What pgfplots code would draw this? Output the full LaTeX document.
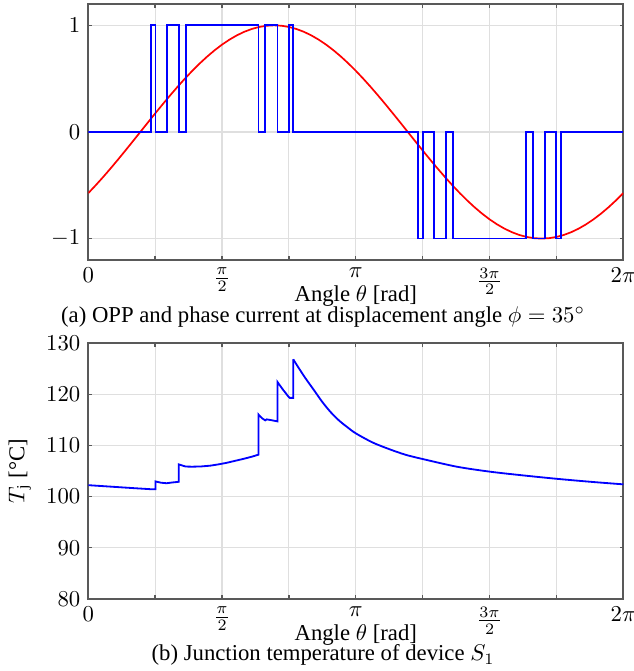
\documentclass[border=0pt]{standalone}
\usepackage{amsmath}
\usepackage{fontspec}
\setmainfont{Liberation Serif}
\usepackage{pgfplots}
\pgfplotsset{compat=1.18}

\pgfplotstableread{
x y
0 -0.5736
5 -0.5
10 -0.4226
15 -0.3420
20 -0.2588
25 -0.1736
30 -0.0872
35 0
40 0.0872
45 0.1736
50 0.2588
55 0.3420
60 0.4226
65 0.5
70 0.5736
75 0.6428
80 0.7071
85 0.7660
90 0.8192
95 0.8660
100 0.9063
105 0.9397
110 0.9659
115 0.9848
120 0.9962
125 1
130 0.9962
135 0.9848
140 0.9659
145 0.9397
150 0.9063
155 0.8660
160 0.8192
165 0.7660
170 0.7071
175 0.6428
180 0.5736
185 0.5
190 0.4226
195 0.3420
200 0.2588
205 0.1736
210 0.0872
215 0
220 -0.0872
225 -0.1736
230 -0.2588
235 -0.3420
240 -0.4226
245 -0.5
250 -0.5736
255 -0.6428
260 -0.7071
265 -0.7660
270 -0.8192
275 -0.8660
280 -0.9063
285 -0.9397
290 -0.9659
295 -0.9848
300 -0.9962
305 -1
310 -0.9962
315 -0.9848
320 -0.9659
325 -0.9397
330 -0.9063
335 -0.8660
340 -0.8192
345 -0.7660
350 -0.7071
355 -0.6428
360 -0.5736
}\current

\pgfplotstableread{
x y
0 0
42.1 0
42.1 1
45.2 1
45.2 0
52.7 0
52.7 1
60.9 1
60.9 0
65.5 0
65.5 1
114.5 1
114.5 0
119.1 0
119.1 1
127.3 1
127.3 0
134.8 0
134.8 1
137.9 1
137.9 0
222.1 0
222.1 -1
225.2 -1
225.2 0
232.7 0
232.7 -1
240.9 -1
240.9 0
245.5 0
245.5 -1
294.5 -1
294.5 0
299.1 0
299.1 -1
307.3 -1
307.3 0
314.8 0
314.8 -1
317.9 -1
317.9 0
360 0
}\opp

\pgfplotstableread{
x y
0 102.24
10 102.05
20 101.86
30 101.67
42.1 101.45
45.2 101.45
45.2 102.98
47 102.85
49 102.72
52.7 102.62
56 102.75
60.9 102.9
60.9 106.3
62.5 106.15
65.5 105.88
70 105.85
76 105.9
82 106.05
87.5 106.3
93 106.6
98.8 107.0
104 107.35
110 107.8
114.5 108.2
114.5 116.05
117 115.3
119.1 114.9
120 115.1
123 114.95
127.3 114.7
127.3 122.4
131 120.9
134.8 119.5
135.5 119.3
137.9 119.3
137.9 126.84
}\tempA

\pgfplotstableread{
x y
137.9 126.84
141.75 125.07
146.25 123.09
151.9 120.79
157.5 118.49
163.1 116.51
168.75 114.87
174.4 113.55
180 112.37
191.25 110.59
202.5 109.28
213.75 108.16
225 107.35
248 105.85
270.5 104.87
292.9 104.14
315.4 103.48
338 102.9
360 102.4
}\tempB

\pgfplotsset{
  myaxis/.style={
    scale only axis,
    width=235.4pt,
    height=112.6pt,
    xmin=0, xmax=360,
    xtick={0,45,...,360},
    xticklabels={$0$,,$\frac{\pi}{2}$,,$\pi$,,$\frac{3\pi}{2}$,,$2\pi$},
    grid=major,
    major grid style={draw=gray!25, line width=0.5pt},
    tick align=inside,
    major tick length=1.6pt,
    tick style={draw=black!65, line width=0.6pt},
    axis line style={draw=black!65, line width=0.7pt},
    xlabel={Angle $\theta$ [rad]},
    xlabel style={at={(axis description cs:0.5,0)}, anchor=center, yshift=-16pt, inner sep=0pt},
    every tick label/.append style={font=\normalsize},
  }
}

\begin{document}
\begin{tikzpicture}
\begin{axis}[myaxis, name=top, at={(0,0)}, anchor=north west,
  ymin=-1.2, ymax=1.2, ytick={-1,0,1}]
  \addplot[draw=red, line width=0.75pt] table[x=x,y=y] {\current};
  \addplot[draw=blue, line width=0.8pt] table[x=x,y=y] {\opp};
\end{axis}
\node[anchor=center, inner sep=0pt] at ([xshift=103.3pt, yshift=-137.7pt]top.north west)
  {(a) OPP and phase current at displacement angle $\phi=35^\circ$};

\begin{axis}[myaxis, name=bot, at={(0,-149.2pt)}, anchor=north west,
  ymin=80, ymax=130, ytick={80,90,...,130},
  ylabel={$T_{\mathrm{j}}$ [°C]},
  ylabel style={at={(axis description cs:-0.128,0.5)}, anchor=center, inner sep=0pt}]
  \addplot[draw=blue, line width=0.8pt] table[x=x,y=y] {\tempA};
  \addplot[draw=blue, line width=0.8pt, smooth] table[x=x,y=y] {\tempB};
\end{axis}
\node[anchor=center, inner sep=0pt] at ([xshift=103.3pt, yshift=-137.3pt]bot.north west)
  {(b) Junction temperature of device $S_1$};

\pgfresetboundingbox
\path[use as bounding box] ([xshift=-38.85pt, yshift=1.76pt]top.north west) rectangle ++(278.96pt,-295.24pt);
\end{tikzpicture}
\end{document}
